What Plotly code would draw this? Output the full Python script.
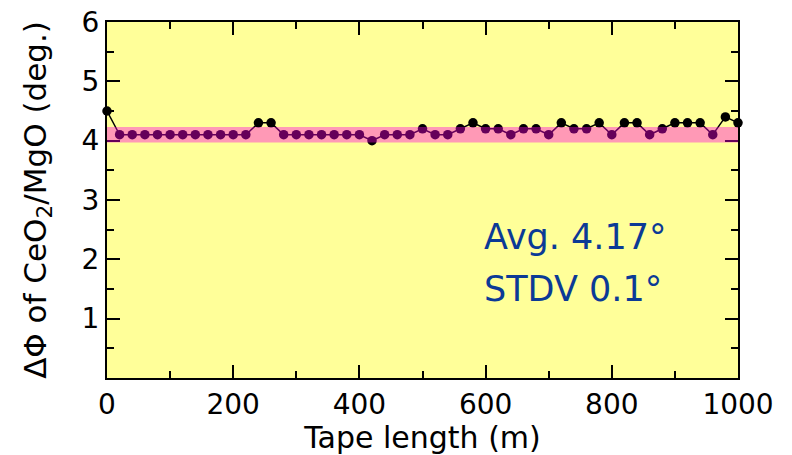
import plotly.graph_objects as go

# Tape position (m) and in-plane texture spread (deg.)
tape_length = list(range(0, 1001, 20))
delta_phi = [
    4.5,
    4.1, 4.1, 4.1, 4.1, 4.1, 4.1, 4.1, 4.1, 4.1, 4.1, 4.1,
    4.3, 4.3,
    4.1, 4.1, 4.1, 4.1, 4.1, 4.1, 4.1,
    4.0,
    4.1, 4.1, 4.1,
    4.2, 4.1, 4.1, 4.2, 4.3, 4.2, 4.2, 4.1, 4.2, 4.2,
    4.1, 4.3, 4.2, 4.2, 4.3, 4.1, 4.3, 4.3, 4.1, 4.2,
    4.3, 4.3, 4.3, 4.1, 4.4, 4.3,
]

# Highlighted band around the average
band_low = 3.97
band_high = 4.23

stats_text = ["Avg. 4.17°", "STDV 0.1°"]

x_ticks = [0, 200, 400, 600, 800, 1000]
y_ticks = [1, 2, 3, 4, 5, 6]

FONT = "DejaVu Sans"

fig = go.Figure()
fig.add_trace(go.Scatter(
    x=tape_length, y=delta_phi,
    mode="lines+markers",
    line=dict(color="black", width=1.5),
    marker=dict(color="black", size=9.5),
    cliponaxis=False,
    showlegend=False,
))

fig.add_shape(
    type="rect", xref="paper", yref="y",
    x0=0, x1=1, y0=band_low, y1=band_high,
    fillcolor="rgba(255,0,225,0.4)", line=dict(width=0),
    layer="above",
)

for i, txt in enumerate(stats_text):
    fig.add_annotation(
        x=594, y=2.37 - 0.87 * i, xref="x", yref="y",
        text=txt, showarrow=False, xanchor="left", yanchor="middle",
        font=dict(family=FONT, size=35, color="#0B3A96"),
    )

axis_common = dict(
    showline=True, linecolor="black", linewidth=2, mirror="ticks",
    ticks="inside", ticklen=13, tickwidth=1.5, tickcolor="black",
    showgrid=False, zeroline=False, automargin=False,
    tickfont=dict(family=FONT, size=28, color="black"),
)

fig.update_xaxes(
    range=[0, 1000], tickvals=x_ticks,
    minor=dict(dtick=100, ticks="inside", ticklen=7, tickwidth=1.5, tickcolor="black", showgrid=False),
    title=dict(text="Tape length (m)", font=dict(family=FONT, size=30, color="black"), standoff=5),
    **axis_common,
)
fig.update_yaxes(
    range=[0, 6], tickvals=y_ticks,
    minor=dict(dtick=0.5, ticks="inside", ticklen=7, tickwidth=1.5, tickcolor="black", showgrid=False),
    title=dict(text="ΔΦ of CeO<sub>2</sub>/MgO (deg.)", font=dict(family=FONT, size=31, color="black"), standoff=26),
    **axis_common,
)

fig.update_layout(
    width=792, height=455,
    margin=dict(l=107, r=54, t=22, b=77),
    plot_bgcolor="#FFFF99", paper_bgcolor="white",
)

fig.write_html("out.html")
